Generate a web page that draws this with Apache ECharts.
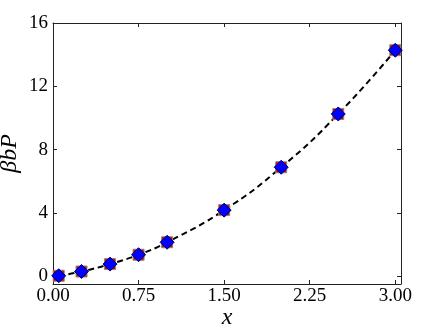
<!DOCTYPE html>
<html>
<head>
<meta charset="utf-8">
<script src="https://cdn.jsdelivr.net/npm/echarts@6/dist/echarts.min.js"></script>
<style>
  html, body { margin: 0; padding: 0; background: #fff; }
  #chart { width: 436px; height: 327px; }
</style>
</head>
<body>
<div id="chart"></div>
<script>
// values
const xValues = [0.05, 0.25, 0.5, 0.75, 1.0, 1.5, 2.0, 2.5, 3.0]
const squareValues = [0.02, 0.29, 0.76, 1.35, 2.14, 4.17, 6.88, 10.25, 14.28]
const diamondValues = [0.02, 0.29, 0.76, 1.35, 2.14, 4.17, 6.88, 10.25, 14.28]
const xTicks = [0, 0.75, 1.5, 2.25, 3.0]
const yTicks = [0, 4, 8, 12, 16]

const font = 'Liberation Serif'
const pairs = vals => xValues.map((x, i) => [x, vals[i]])

const chart = echarts.init(document.getElementById('chart'))

// 边框线，不跟随零点
const frameLine = { show: true, onZero: false, lineStyle: { color: '#222', width: 1 } }

chart.setOption({
  animation: false,
  grid: { left: 53, right: 35, top: 23, bottom: 43, containLabel: false, outerBoundsMode: 'none' },
  xAxis: [
    {
      type: 'value', min: 0, max: 3.05,
      name: 'x', nameLocation: 'middle', nameGap: 22, nameMoveOverlap: false,
      nameTextStyle: { fontFamily: font, fontStyle: 'italic', fontSize: 24, color: '#000' },
      axisLine: frameLine,
      axisTick: { inside: true, length: 4, customValues: xTicks, lineStyle: { color: '#222' } },
      axisLabel: {
        margin: 3, fontFamily: font, fontSize: 19, color: '#000',
        customValues: xTicks, formatter: v => v.toFixed(2)
      },
      splitLine: { show: false }
    },
    {
      type: 'value', min: 0, max: 3.05, position: 'top',
      axisLine: frameLine,
      axisTick: { inside: true, length: 4, customValues: xTicks, lineStyle: { color: '#222' } },
      axisLabel: { show: false },
      splitLine: { show: false }
    }
  ],
  yAxis: [
    {
      type: 'value', min: -0.5, max: 16,
      name: 'βbP', nameLocation: 'middle', nameGap: 31, nameRotate: 90, nameMoveOverlap: false,
      nameTextStyle: { fontFamily: font, fontStyle: 'italic', fontSize: 24, color: '#000' },
      axisLine: frameLine,
      axisTick: { show: true, inside: true, length: 4, customValues: yTicks, lineStyle: { color: '#222' } },
      axisLabel: {
        margin: 5, fontFamily: font, fontSize: 19, color: '#000',
        customValues: yTicks, formatter: v => String(v)
      },
      splitLine: { show: false }
    },
    {
      type: 'value', min: -0.5, max: 16, position: 'right',
      axisLine: frameLine,
      axisTick: { show: true, inside: true, length: 4, customValues: yTicks, lineStyle: { color: '#222' } },
      axisLabel: { show: false },
      splitLine: { show: false }
    }
  ],
  series: [
    {
      type: 'line', data: pairs(diamondValues), smooth: true, showSymbol: false,
      lineStyle: { color: '#000', width: 2, type: [6, 4] },
      z: 1
    },
    {
      type: 'scatter', data: pairs(squareValues), symbol: 'rect', symbolSize: 11,
      itemStyle: { color: '#e00000', borderColor: '#888', borderWidth: 1, opacity: 1 },
      z: 2
    },
    {
      type: 'scatter', data: pairs(diamondValues), symbol: 'diamond', symbolSize: 14,
      itemStyle: { color: '#0000ff', borderColor: '#00005a', borderWidth: 1, opacity: 1 },
      z: 3
    }
  ]
})
</script>
</body>
</html>
